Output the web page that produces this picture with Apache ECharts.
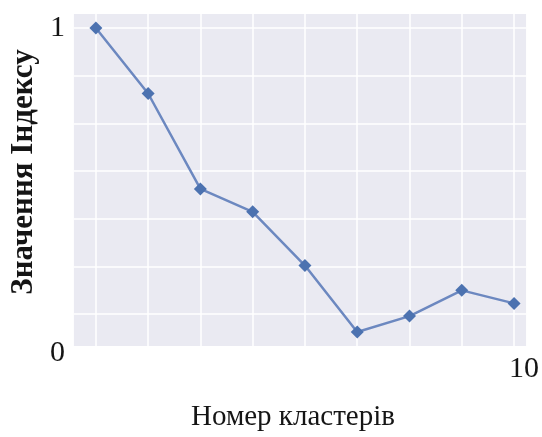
<!DOCTYPE html>
<html>
<head>
<meta charset="utf-8">
<script src="https://cdn.jsdelivr.net/npm/echarts@6/dist/echarts.min.js"></script>
<style>
  html, body { margin: 0; padding: 0; background: #fff; }
  #chart { width: 542px; height: 437px; }
</style>
</head>
<body>
<div id="chart"></div>
<script>
  // Кількість кластерів і значення індексу (нормовано, 1 = максимум)
  var clusters = [2, 3, 4, 5, 6, 7, 8, 9, 10];
  var indexValues = [1.0, 0.794, 0.494, 0.422, 0.253, 0.044, 0.094, 0.175, 0.134];

  // позиції сітки та підписи осей
  var xGridValues = clusters;
  var yGridValues = [0.1, 0.25, 0.4, 0.55, 0.7, 0.85, 1.0];
  var yLabelValues = [0, 1];
  var xLabelValues = [10];

  var FONT = '"Liberation Serif", "DejaVu Serif", serif';
  var TEXT = '#151515';

  var chart = echarts.init(document.getElementById('chart'));

  var points = clusters.map(function(c, i) { return [c, indexValues[i]]; });

  chart.setOption({
    animation: false,
    grid: {
      left: 72, right: 15, top: 14, bottom: 89,
      show: true,
      backgroundColor: '#eaeaf2',
      borderWidth: 0,
    },
    xAxis: {
      type: 'value',
      min: 1.58,
      max: 10.23,
      name: 'Номер кластерів',
      nameLocation: 'middle',
      nameGap: 57,
      nameTextStyle: { fontFamily: FONT, fontSize: 29, color: TEXT, padding: [0, 14, 0, 0] },
      axisLine: { show: false },
      axisTick: { show: false, customValues: xGridValues },
      axisLabel: {
        customValues: xLabelValues,
        fontFamily: FONT, fontSize: 30, color: TEXT, margin: 8,
        formatter: function(v) { return '{r|' + v + '}'; },
        rich: { r: { fontFamily: FONT, fontSize: 30, color: TEXT, padding: [0, 0, 0, 20] } },
      },
      splitLine: { show: true, lineStyle: { color: '#ffffff', width: 1.5 } },
    },
    yAxis: {
      type: 'value',
      min: 0,
      max: 1.044,
      name: 'Значення Індексу',
      nameLocation: 'middle',
      nameGap: 33,
      nameTextStyle: { fontFamily: FONT, fontSize: 31, fontWeight: 'bold', color: TEXT, padding: [0, 0, 0, 16] },
      axisLine: { show: false },
      axisTick: { show: false, customValues: yGridValues },
      axisLabel: {
        customValues: yLabelValues,
        fontFamily: FONT, fontSize: 30, color: TEXT, margin: 9,
        formatter: function(v) { return v === 0 ? '{low|0}' : '{n|' + v + '}'; },
        rich: {
          low: { fontFamily: FONT, fontSize: 30, color: TEXT, padding: [14, 0, 0, 0] },
          n: { fontFamily: FONT, fontSize: 30, color: TEXT },
        },
      },
      splitLine: { show: true, lineStyle: { color: '#ffffff', width: 1.5 } },
    },
    series: [{
      type: 'line',
      data: points,
      symbol: 'diamond',
      symbolSize: 13,
      lineStyle: { color: '#6c88c0', width: 2.5 },
      itemStyle: { color: '#4c72b0' },
    }],
  });
</script>
</body>
</html>
